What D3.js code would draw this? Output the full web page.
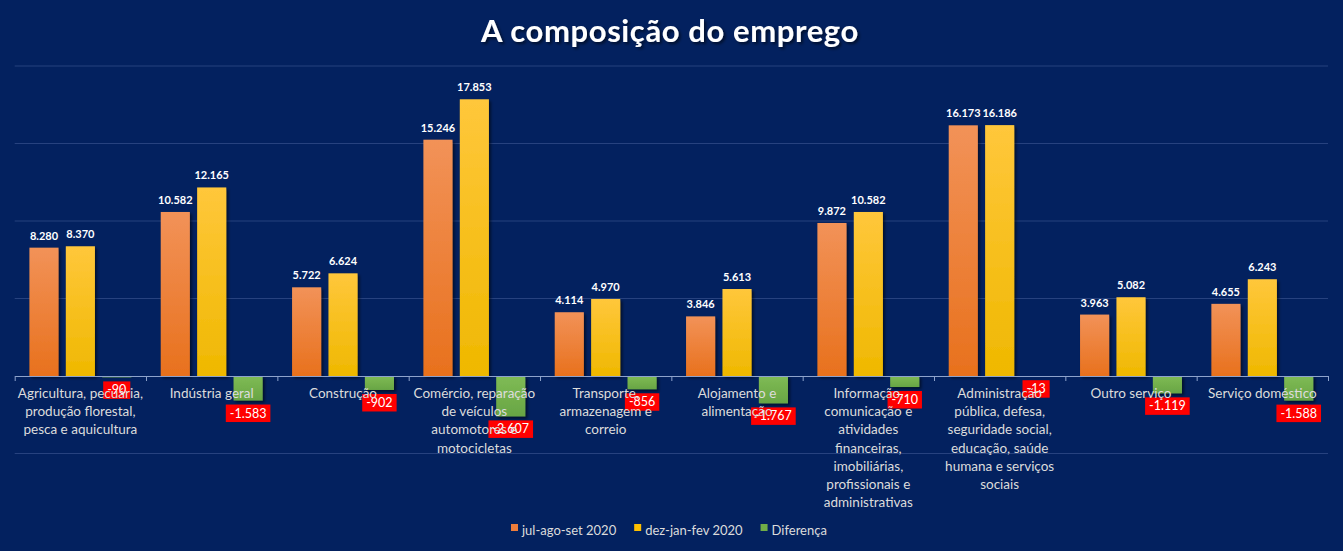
<!DOCTYPE html>
<html>
<head>
<meta charset="utf-8">
<script src="https://cdn.jsdelivr.net/npm/d3@7"></script>
<style>
  html, body { margin: 0; padding: 0; background: #03215f; }
  svg { display: block; }
</style>
</head>
<body>
<svg id="chart" width="1343" height="551"></svg>
<script>
var categories = [
    "Agricultura, pecuária, produção florestal, pesca e aquicultura",
    "Indústria geral",
    "Construção",
    "Comércio, reparação de veículos automotores e motocicletas",
    "Transporte, armazenagem e correio",
    "Alojamento e alimentação",
    "Informação, comunicação e atividades financeiras, imobiliárias, profissionais e administrativas",
    "Administração pública, defesa, seguridade social, educação, saúde humana e serviços sociais",
    "Outro serviço",
    "Serviço doméstico"
];
// tick label lines, as wrapped in the picture
var categoryLines = [
    ["Agricultura, pecuária,", "produção florestal,", "pesca e aquicultura"],
    ["Indústria geral"],
    ["Construção"],
    ["Comércio, reparação", "de veículos", "automotores e", "motocicletas"],
    ["Transporte,", "armazenagem e", "correio"],
    ["Alojamento e", "alimentação"],
    ["Informação,", "comunicação e", "atividades", "financeiras,", "imobiliárias,", "profissionais e", "administrativas"],
    ["Administração", "pública, defesa,", "seguridade social,", "educação, saúde", "humana e serviços", "sociais"],
    ["Outro serviço"],
    ["Serviço doméstico"]
];
var julAgoSet = [8280, 10582, 5722, 15246, 4114, 3846, 9872, 16173, 3963, 4655];
var dezJanFev = [8370, 12165, 6624, 17853, 4970, 5613, 10582, 16186, 5082, 6243];
var diferenca = [-90, -1583, -902, -2607, -856, -1767, -710, -13, -1119, -1588];
var seriesNames = ["jul-ago-set 2020", "dez-jan-fev 2020", "Diferença"];
var gridTicks = [-5000, 0, 5000, 10000, 15000, 20000];

var svg = d3.select("#chart"),
    margin = {top: 66, right: 15, bottom: 97.5, left: 14.7},
    width = +svg.attr("width") - margin.left - margin.right,
    height = +svg.attr("height") - margin.top - margin.bottom;

var font = "Lato, 'Open Sans', sans-serif";
var fmt = d3.formatLocale({decimal: ",", thousands: ".", grouping: [3], currency: ["R$", ""], minus: "-"}).format(",d");

var defs = svg.append("defs");
function gradient(id, top, bottom) {
    var lg = defs.append("linearGradient").attr("id", id)
        .attr("x1", 0).attr("y1", 0).attr("x2", 0).attr("y2", 1);
    lg.append("stop").attr("offset", "0%").attr("stop-color", top);
    lg.append("stop").attr("offset", "100%").attr("stop-color", bottom);
}
gradient("g0", "#f29258", "#e8711d");
gradient("g1", "#ffc73b", "#efb800");
gradient("g2", "#7fbb55", "#68a544");

defs.append("filter").attr("id", "shadow")
    .attr("x", "-20%").attr("y", "-20%").attr("width", "150%").attr("height", "150%")
    .append("feDropShadow")
    .attr("dx", 2).attr("dy", 2).attr("stdDeviation", 1.5)
    .attr("flood-color", "#000").attr("flood-opacity", 0.55);

var fills = ["url(#g0)", "url(#g1)", "url(#g2)"];
var legendColors = ["#ee7d3b", "#ffc000", "#70ad47"];

svg.append("rect").attr("width", 1343).attr("height", 551).attr("fill", "#03215f");

// title
svg.append("text")
    .attr("x", 670)
    .attr("y", 42)
    .attr("text-anchor", "middle")
    .attr("font-family", font)
    .attr("font-weight", "bold")
    .attr("font-size", 31)
    .attr("letter-spacing", 0.6)
    .attr("fill", "#ffffff")
    .attr("filter", "url(#shadow)")
    .text("A composição do emprego");

var g = svg.append("g").attr("transform", "translate(" + margin.left + "," + margin.top + ")");

var x0 = d3.scaleBand()
    .domain(categories)
    .range([0, width]);

var x1 = d3.scaleBand()
    .domain(seriesNames)
    .range([x0.bandwidth() * 0.112, x0.bandwidth() * 0.888])
    .paddingInner(0.2);

var y = d3.scaleLinear()
    .domain([-5000, 20000])
    .range([height, 0]);

// gridlines
g.append("g")
    .selectAll("line")
    .data(gridTicks.filter(function (d) { return d !== 0; }))
    .enter().append("line")
    .attr("x1", 0)
    .attr("x2", width)
    .attr("y1", function (d) { return y(d); })
    .attr("y2", function (d) { return y(d); })
    .attr("stroke", "#27427f")
    .attr("stroke-width", 1);

var rows = categories.map(function (c, i) {
    return {cat: c, values: [julAgoSet[i], dezJanFev[i], diferenca[i]]};
});

// bars
var groups = g.append("g")
    .selectAll("g")
    .data(rows)
    .enter().append("g")
    .attr("transform", function (d) {
        return "translate(" + x0(d.cat) + ",0)";
    });

groups.selectAll("rect")
    .data(function (d) {
        return d.values.map(function (v, k) {
            return {key: seriesNames[k], k: k, value: v};
        });
    })
    .enter().append("rect")
    .attr("x", function (d) { return x1(d.key); })
    .attr("y", function (d) { return y(Math.max(0, d.value)); })
    .attr("width", x1.bandwidth())
    .attr("height", function (d) { return Math.abs(y(d.value) - y(0)); })
    .attr("fill", function (d) { return fills[d.k]; })
    .attr("filter", "url(#shadow)");

// axis with ticks at category boundaries
var xIdx = d3.scaleLinear().domain([0, categories.length]).range([0, width]);
var axis = g.append("g")
    .attr("transform", "translate(0," + y(0) + ")")
    .call(d3.axisBottom(xIdx).ticks(categories.length).tickFormat("").tickSizeOuter(0).tickSizeInner(5));
axis.select(".domain").attr("stroke", "#8ea3cc");
axis.selectAll(".tick line").attr("stroke", "#8ea3cc");

// category labels
var labels = g.append("g")
    .attr("font-family", font)
    .attr("font-size", 13.5)
    .attr("fill", "#dcdcdc")
    .attr("text-anchor", "middle")
    .selectAll("text")
    .data(categories)
    .enter().append("text")
    .attr("x", function (d) { return x0(d) + x0.bandwidth() / 2; })
    .attr("y", y(0) + 22);

labels.selectAll("tspan")
    .data(function (d, i) { return categoryLines[i]; })
    .enter().append("tspan")
    .attr("x", function () { return d3.select(this.parentNode).attr("x"); })
    .attr("dy", function (d, i) { return i === 0 ? 0 : 18.2; })
    .text(function (d) { return d; });

// value labels for the two positive series
groups.selectAll(".val")
    .data(function (d) {
        return d.values.slice(0, 2).map(function (v, k) {
            return {key: seriesNames[k], value: v};
        });
    })
    .enter().append("text")
    .attr("class", "val")
    .attr("x", function (d) { return x1(d.key) + x1.bandwidth() / 2; })
    .attr("y", function (d) { return y(d.value) - 8; })
    .attr("text-anchor", "middle")
    .attr("font-family", font)
    .attr("font-weight", "bold")
    .attr("font-size", 11)
    .attr("fill", "#ffffff")
    .text(function (d) { return fmt(d.value); });

// difference labels in red boxes
var diffLab = groups.append("g")
    .attr("transform", function (d) {
        return "translate(" + (x1(seriesNames[2]) + x1.bandwidth() / 2) + "," + (y(d.values[2]) + 4) + ")";
    });

diffLab.append("text")
    .attr("y", 13)
    .attr("text-anchor", "middle")
    .attr("font-family", font)
    .attr("font-size", 12.5)
    .attr("fill", "#ffffff")
    .text(function (d) { return fmt(d.values[2]); })
    .each(function () {
        var w = this.getComputedTextLength();
        d3.select(this.parentNode).insert("rect", "text")
            .attr("x", -w / 2 - 4)
            .attr("y", 0)
            .attr("width", w + 8)
            .attr("height", 17.5)
            .attr("fill", "#ff0000");
    });

// legend
var legend = svg.append("g")
    .attr("font-family", font)
    .attr("font-size", 13)
    .attr("fill", "#dcdcdc");

var lx = 511;
seriesNames.forEach(function (name, k) {
    var item = legend.append("g").attr("transform", "translate(" + lx + ",0)");
    item.append("rect")
        .attr("x", 0).attr("y", 524)
        .attr("width", 7).attr("height", 7)
        .attr("fill", legendColors[k]);
    var t = item.append("text")
        .attr("x", 11).attr("y", 535)
        .text(name);
    lx += 11 + t.node().getComputedTextLength() + 18;
});
</script>
</body>
</html>
